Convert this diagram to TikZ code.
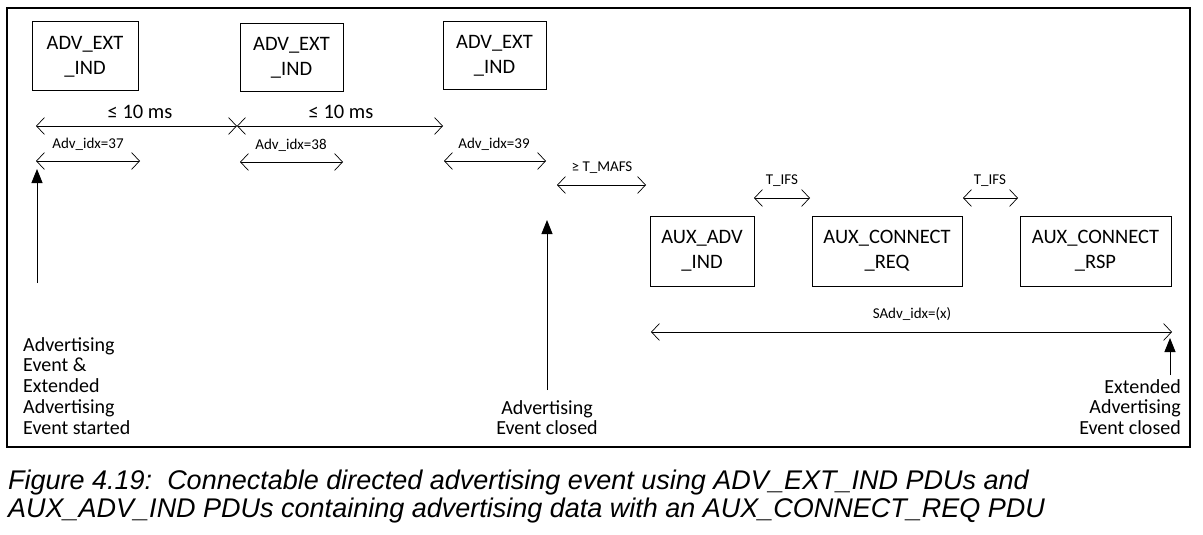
\documentclass[tikz,border=0pt]{standalone}
\usepackage{fontspec}
\setmainfont{Carlito}
\newfontfamily\capfont{Liberation Sans}
\usetikzlibrary{arrows.meta}
\begin{document}
\begin{tikzpicture}[x=1pt,y=-1pt,
  pdu/.style={draw,line width=1pt,align=center,inner sep=0pt,font=\fontsize{20.5}{25}\selectfont},
  dimarr/.style={line width=0.9pt,{Straight Barb[length=8pt,width=17pt,line width=0.7pt]}-{Straight Barb[length=8pt,width=17pt,line width=0.7pt]}},
  uparr/.style={line width=0.9pt,-{Triangle[length=14pt,width=11pt]}},
  lbl/.style={inner sep=0pt,font=\fontsize{20.5}{25}\selectfont},
  small/.style={inner sep=0pt,font=\fontsize{15}{17}\selectfont},
  evt/.style={inner sep=0pt,font=\fontsize{20}{20.75}\selectfont}]
\useasboundingbox (0,0) rectangle (1203,535);
\draw[line width=1.2pt] (7,8) rectangle (1190,447);
% PDU boxes
\node[pdu,minimum width=106pt,minimum height=69pt] (b1) at (85,56.5) {ADV\_EXT\\\_IND};
\node[pdu,minimum width=103pt,minimum height=68pt] (b2) at (291.5,58) {ADV\_EXT\\\_IND};
\node[pdu,minimum width=103pt,minimum height=68pt] (b3) at (494.5,56) {ADV\_EXT\\\_IND};
\node[pdu,minimum width=104pt,minimum height=70pt] (b4) at (702,251) {AUX\_ADV\\\_IND};
\node[pdu,minimum width=150pt,minimum height=70pt] (b5) at (887,251) {AUX\_CONNECT\\\_REQ};
\node[pdu,minimum width=151pt,minimum height=70pt] (b6) at (1095.5,251) {AUX\_CONNECT\\\_RSP};
% interval coordinates
\coordinate (i0) at (36,126);
\coordinate (i1) at (237,126);
\coordinate (i2) at (443,126);
\draw[dimarr] (i0) -- (i1);
\draw[dimarr] (i1) -- (i2);
\node[lbl] (t1) at (140,112) {≤ 10 ms};
\node[lbl] (t2) at (341,112) {≤ 10 ms};
% adv idx
\coordinate (a1l) at (36,161); \coordinate (a1r) at (140,161);
\coordinate (a2l) at (240,162); \coordinate (a2r) at (343,162);
\coordinate (a3l) at (444,161); \coordinate (a3r) at (546,161);
\draw[dimarr] (a1l) -- (a1r);
\draw[dimarr] (a2l) -- (a2r);
\draw[dimarr] (a3l) -- (a3r);
\node[small] (s1) at (88,144) {Adv\_idx=37};
\node[small] (s2) at (291,145) {Adv\_idx=38};
\node[small] (s3) at (494,144) {Adv\_idx=39};
% T_MAFS
\coordinate (m1) at (557,185); \coordinate (m2) at (646,185);
\draw[dimarr] (m1) -- (m2);
\node[small] (tm) at (602,168) {≥ T\_MAFS};
% T_IFS
\coordinate (f1) at (754,198); \coordinate (f2) at (810,198);
\coordinate (f3) at (963,198); \coordinate (f4) at (1018,198);
\draw[dimarr] (f1) -- (f2);
\draw[dimarr] (f3) -- (f4);
\node[small] (tf1) at (782,181) {T\_IFS};
\node[small] (tf2) at (990,181) {T\_IFS};
% SAdv
\coordinate (x1) at (651,332); \coordinate (x2) at (1172,332);
\draw[dimarr] (x1) -- (x2);
\node[small] (sx) at (912,314) {SAdv\_idx=(x)};
% event markers
\node[evt,align=left,anchor=north west] (e1) at (23,337) {Advertising\\Event \&\\Extended\\Advertising\\Event started};
\node[evt,align=center,anchor=north] (e2) at (547,400) {Advertising\\Event closed};
\node[evt,align=right,anchor=north east] (e3) at (1181,379) {Extended\\Advertising\\Event closed};
\coordinate (p1) at (37,169);
\coordinate (p2) at (547,220);
\coordinate (p3) at (1170,338);
\draw[uparr] (e1.north -| p1) ++(0,-54) -- (p1);
\draw[uparr] (e2.north) ++(0,-10) -- (p2);
\draw[uparr] (e3.north -| p3) ++(0,-4) -- (p3);
% caption
\node[inner sep=0pt,anchor=base west,font=\capfont\itshape\fontsize{27}{28}\selectfont,align=left] (cap) at (8,517) {Figure 4.19:\ \ Connectable directed advertising event using ADV\_EXT\_IND PDUs and\\AUX\_ADV\_IND PDUs containing advertising data with an AUX\_CONNECT\_REQ PDU};
\end{tikzpicture}
\end{document}
